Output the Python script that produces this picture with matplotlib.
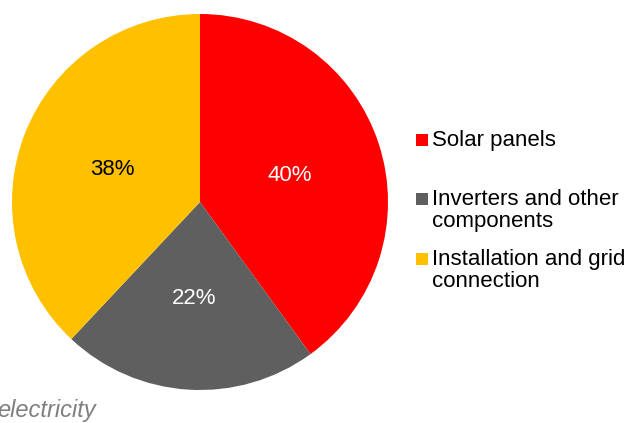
import matplotlib.pyplot as plt
from matplotlib.patches import Rectangle

plt.rcParams['font.family'] = ['Liberation Sans', 'DejaVu Sans']

# cost shares, clockwise from 12 o'clock
labels = ['Solar panels', 'Inverters and other\ncomponents', 'Installation and grid\nconnection']
shares = [40, 22, 38]
colors = ['#ff0000', '#5f5f5f', '#ffc000']
pct_colors = ['white', 'white', 'black']
footnote = 'electricity'

W, H = 625, 423
fs = 16
fig = plt.figure(figsize=(W / 100, H / 100), dpi=100)

# pie centre (200, 202) px, radius 188 px
cx, cy, r = 200, 202, 188
ax = fig.add_axes([(cx - r) / W, (H - cy - r) / H, 2 * r / W, 2 * r / H])
wedges, texts, autotexts = ax.pie(shares, colors=colors, startangle=90, counterclock=False,
                                  autopct='%1.0f%%', pctdistance=0.5, radius=1,
                                  textprops={'fontsize': fs})
for t, c in zip(autotexts, pct_colors):
    t.set_color(c)
    t.set_va('center_baseline')
ax.set_xlim(-1, 1)
ax.set_ylim(-1, 1)
ax.set_aspect('auto')
ax.axis('off')

# legend drawn by hand so the marker sits on the first line of text
baselines = [147, 206, 266]
for lab, col, y in zip(labels, colors, baselines):
    fig.patches.append(Rectangle((416 / W, 1 - (y - 1) / H), 12 / W, 12 / H,
                                 transform=fig.transFigure, color=col, lw=0))
    fig.text(432 / W, 1 - (y - 17) / H, lab, fontsize=fs, va='top', ha='left',
             linespacing=1.08)

fig.text(-3 / W, 1 - 417 / H, footnote, fontsize=17, style='italic', color='#7f7f7f',
         va='baseline', ha='left')

fig.savefig('out.png', dpi=100)
